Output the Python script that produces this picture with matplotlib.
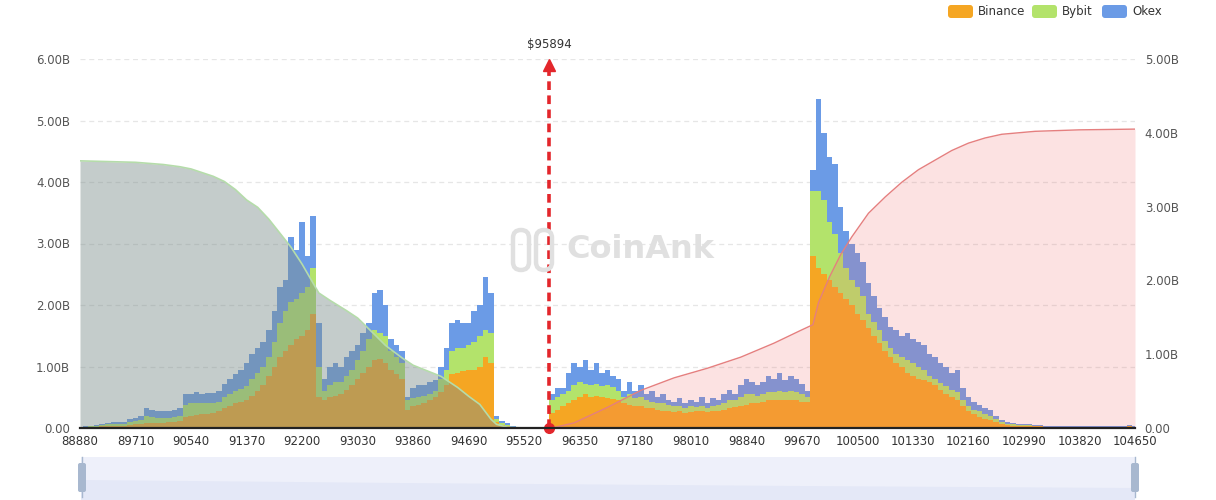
import numpy as np
import matplotlib
matplotlib.use('Agg')
import matplotlib.pyplot as plt
from matplotlib.patches import FancyBboxPatch, Rectangle, Polygon

plt.rcParams['font.family'] = ['DejaVu Sans']

# ---------------- data ----------------
start_price = 88880
price_step = 83
n_levels = 191
prices = start_price + price_step * np.arange(n_levels)
tick_prices = [88880, 89710, 90540, 91370, 92200, 93030, 93860, 94690, 95520, 96350,
               97180, 98010, 98840, 99670, 100500, 101330, 102160, 102990, 103820, 104650]
current_price = 95894

binance = [0.01, 0.01, 0.015, 0.02, 0.025, 0.03, 0.035, 0.04, 0.04, 0.05,
           0.06, 0.07, 0.08, 0.08, 0.08, 0.08, 0.09, 0.10, 0.12, 0.18,
           0.20, 0.21, 0.22, 0.23, 0.24, 0.27, 0.32, 0.36, 0.40, 0.43,
           0.46, 0.52, 0.60, 0.70, 0.85, 1.00, 1.15, 1.25, 1.35, 1.45,
           1.50, 1.60, 1.85, 0.50, 0.45, 0.50, 0.52, 0.55, 0.62, 0.70,
           0.80, 0.90, 1.00, 1.10, 1.12, 1.05, 0.95, 0.88, 0.80, 0.30,
           0.35, 0.38, 0.40, 0.45, 0.50, 0.58, 0.70, 0.88, 0.90, 0.92,
           0.95, 0.95, 1.00, 1.15, 1.05, 0.10, 0.05, 0.03, 0.01, 0,
           0, 0, 0, 0, 0, 0.25, 0.30, 0.35, 0.40, 0.45,
           0.50, 0.55, 0.50, 0.52, 0.50, 0.48, 0.47, 0.45, 0.40, 0.38,
           0.36, 0.35, 0.33, 0.32, 0.30, 0.28, 0.27, 0.26, 0.27, 0.25,
           0.26, 0.27, 0.27, 0.26, 0.28, 0.28, 0.30, 0.32, 0.34, 0.36,
           0.38, 0.40, 0.40, 0.42, 0.45, 0.45, 0.46, 0.45, 0.46, 0.45,
           0.43, 0.42, 2.80, 2.60, 2.50, 2.40, 2.30, 2.20, 2.10, 2.00,
           1.85, 1.75, 1.62, 1.50, 1.38, 1.25, 1.15, 1.05, 1.00, 0.90,
           0.85, 0.80, 0.78, 0.74, 0.70, 0.62, 0.56, 0.50, 0.45, 0.35,
           0.27, 0.22, 0.18, 0.15, 0.13, 0.10, 0.07, 0.05, 0.04, 0.03,
           0.03, 0.03, 0.025, 0.025, 0.015, 0.015, 0.015, 0.015, 0.015, 0.015,
           0.015, 0.015, 0.015, 0.015, 0.015, 0.015, 0.015, 0.015, 0.015, 0.03,
           0.015]

bybit = [0.005, 0.01, 0.015, 0.015, 0.025, 0.03, 0.03, 0.03, 0.03, 0.05,
         0.05, 0.06, 0.12, 0.10, 0.09, 0.08, 0.08, 0.08, 0.08, 0.20,
         0.20, 0.19, 0.18, 0.18, 0.16, 0.16, 0.18, 0.19, 0.20, 0.21,
         0.22, 0.28, 0.30, 0.30, 0.30, 0.40, 0.55, 0.65, 0.70, 0.65,
         0.70, 0.70, 0.75, 0.50, 0.15, 0.20, 0.23, 0.20, 0.23, 0.25,
         0.30, 0.35, 0.45, 0.50, 0.43, 0.45, 0.30, 0.27, 0.25, 0.15,
         0.13, 0.12, 0.12, 0.10, 0.10, 0.22, 0.25, 0.37, 0.40, 0.38,
         0.40, 0.45, 0.50, 0.45, 0.50, 0.05, 0.03, 0.02, 0.01, 0,
         0, 0, 0, 0, 0, 0.20, 0.20, 0.20, 0.20, 0.25,
         0.25, 0.17, 0.20, 0.20, 0.18, 0.22, 0.19, 0.15, 0.10, 0.17,
         0.12, 0.15, 0.12, 0.10, 0.10, 0.12, 0.10, 0.09, 0.09, 0.08,
         0.09, 0.07, 0.09, 0.07, 0.08, 0.09, 0.10, 0.13, 0.11, 0.14,
         0.17, 0.15, 0.12, 0.13, 0.13, 0.13, 0.14, 0.13, 0.14, 0.13,
         0.12, 0.08, 1.05, 1.25, 1.20, 0.95, 0.85, 0.65, 0.50, 0.40,
         0.45, 0.40, 0.23, 0.22, 0.22, 0.17, 0.15, 0.15, 0.15, 0.20,
         0.20, 0.20, 0.17, 0.11, 0.10, 0.11, 0.12, 0.12, 0.13, 0.10,
         0.09, 0.08, 0.09, 0.08, 0.07, 0.05, 0.03, 0.02, 0.02, 0.02,
         0.02, 0.015, 0.01, 0.01, 0.008, 0.008, 0.008, 0.008, 0.008, 0.008,
         0.008, 0.008, 0.008, 0.008, 0.008, 0.008, 0.008, 0.008, 0.008, 0.01,
         0.008]

okex = [0.005, 0.01, 0.01, 0.015, 0.02, 0.02, 0.025, 0.03, 0.03, 0.05,
        0.06, 0.07, 0.13, 0.12, 0.11, 0.11, 0.11, 0.12, 0.12, 0.17,
        0.16, 0.18, 0.15, 0.16, 0.17, 0.17, 0.22, 0.25, 0.28, 0.31,
        0.37, 0.40, 0.40, 0.40, 0.45, 0.50, 0.60, 0.50, 1.05, 0.80,
        1.15, 0.50, 0.85, 0.70, 0.20, 0.30, 0.30, 0.25, 0.30, 0.30,
        0.25, 0.30, 0.25, 0.60, 0.70, 0.50, 0.20, 0.20, 0.20, 0.05,
        0.17, 0.20, 0.18, 0.20, 0.18, 0.20, 0.35, 0.45, 0.45, 0.40,
        0.35, 0.50, 0.50, 0.85, 0.65, 0.05, 0.04, 0.03, 0.01, 0,
        0, 0, 0, 0, 0, 0.10, 0.15, 0.10, 0.30, 0.35,
        0.25, 0.38, 0.25, 0.33, 0.22, 0.25, 0.19, 0.20, 0.10, 0.20,
        0.12, 0.20, 0.10, 0.18, 0.10, 0.15, 0.08, 0.07, 0.12, 0.07,
        0.10, 0.08, 0.14, 0.07, 0.12, 0.08, 0.15, 0.17, 0.10, 0.20,
        0.25, 0.20, 0.18, 0.20, 0.27, 0.22, 0.30, 0.20, 0.25, 0.22,
        0.17, 0.10, 0.35, 1.50, 1.10, 1.05, 1.15, 0.75, 0.60, 0.60,
        0.55, 0.55, 0.50, 0.43, 0.35, 0.38, 0.35, 0.40, 0.35, 0.45,
        0.40, 0.40, 0.40, 0.35, 0.35, 0.32, 0.32, 0.28, 0.37, 0.20,
        0.14, 0.12, 0.10, 0.10, 0.10, 0.05, 0.03, 0.03, 0.02, 0.02,
        0.02, 0.015, 0.015, 0.015, 0.007, 0.007, 0.007, 0.007, 0.007, 0.007,
        0.007, 0.007, 0.007, 0.007, 0.007, 0.007, 0.007, 0.007, 0.007, 0.01,
        0.007]

# cumulative liquidation (right axis, billions), level index -> value
long_cum_idx = [0, 5, 10, 15, 18, 20, 22, 24, 26, 28, 30, 32, 34, 36, 38, 40, 42, 43, 45,
                48, 50, 53, 55, 58, 60, 63, 65, 68, 70, 72, 74, 75, 77, 80, 84]
long_cum_val = [3.62, 3.61, 3.60, 3.57, 3.54, 3.51, 3.46, 3.41, 3.34, 3.23, 3.09, 2.99,
                2.83, 2.64, 2.45, 2.22, 1.96, 1.83, 1.73, 1.59, 1.49, 1.27, 1.12, 0.95,
                0.85, 0.76, 0.70, 0.55, 0.43, 0.32, 0.12, 0.05, 0.01, 0.0, 0.0]
short_cum_idx = [85, 89, 95, 101, 107, 113, 119, 125, 130, 132, 133, 135, 137, 139, 142,
                 145, 148, 151, 154, 157, 160, 163, 166, 172, 180, 190]
short_cum_val = [0.0, 0.07, 0.28, 0.51, 0.68, 0.81, 0.96, 1.15, 1.33, 1.40, 1.70, 2.05,
                 2.35, 2.59, 2.91, 3.13, 3.33, 3.50, 3.63, 3.76, 3.86, 3.93, 3.98, 4.02,
                 4.04, 4.05]

# ---------------- figure ----------------
W, H = 1216, 500
fig = plt.figure(figsize=(W / 100, H / 100), dpi=100)
ax = fig.add_axes([80 / W, (H - 428) / H, 1055 / W, (428 - 59) / H])
ax2 = ax.twinx()

c_bin, c_byb, c_okx = '#f5a623', '#b3e36b', '#6b9be6'

b = np.array(binance)
y1 = np.array(bybit)
o = np.array(okex)
ax.fill_between(prices, 0, b, step='mid', color=c_bin, lw=0)
ax.fill_between(prices, b, b + y1, step='mid', color=c_byb, lw=0)
ax.fill_between(prices, b + y1, b + y1 + o, step='mid', color=c_okx, lw=0)

ax.set_xlim(prices[0], prices[-1])
ax.set_ylim(0, 6)
ax2.set_ylim(0, 5)

# cumulative areas
lx = prices[long_cum_idx]
sx = prices[short_cum_idx]
ax2.fill_between(lx, 0, long_cum_val, color='#7d8f8c', alpha=0.45, lw=0)
ax2.plot(lx, long_cum_val, color='#b5dcaa', lw=1.2)
ax2.fill_between(sx, 0, short_cum_val, color='#f07070', alpha=0.2, lw=0)
ax2.plot(sx, short_cum_val, color='#e57f7f', lw=1.0)

# grid and axes styling
ax.set_yticks([0, 1, 2, 3, 4, 5, 6])
ax.set_yticklabels(['0.00', '1.00B', '2.00B', '3.00B', '4.00B', '5.00B', '6.00B'])
ax2.set_yticks([0, 1, 2, 3, 4, 5])
ax2.set_yticklabels(['0.00', '1.00B', '2.00B', '3.00B', '4.00B', '5.00B'])
ax.set_xticks(tick_prices)
ax.set_xticklabels([str(p) for p in tick_prices])
for yv in [1, 2, 3, 4, 5, 6]:
    ax.axhline(yv, color='#e6e6e6', lw=0.9, ls=(0, (4, 3)), zorder=0)
for a in (ax, ax2):
    for s in a.spines.values():
        s.set_visible(False)
    a.tick_params(length=0)
ax2.spines['bottom'].set_visible(True)
ax2.spines['bottom'].set_color('#222222')
ax2.spines['bottom'].set_linewidth(1.6)
ax.tick_params(axis='y', labelsize=8.5, labelcolor='#555555', pad=7)
ax2.tick_params(axis='y', labelsize=8.5, labelcolor='#555555', pad=7)
ax.tick_params(axis='x', labelsize=8.5, labelcolor='#333333', pad=5)

# current price marker
red = '#e3262b'
ax.plot([current_price, current_price], [0, 5.85], color=red, lw=2.6,
        dashes=(2.4, 1.5), zorder=6, clip_on=False)
ax.plot([current_price], [5.9], marker='^', color=red, markersize=9, zorder=7, clip_on=False)
ax.plot([current_price], [0], marker='o', color=red, markersize=7, zorder=7, clip_on=False)
ax.text(current_price, 6.24, '$' + str(current_price), ha='center', va='center',
        fontsize=8.5, color='#333333', clip_on=False)

# ---------------- overlay (legend, watermark, slider) ----------------
ov = fig.add_axes([0, 0, 1, 1], facecolor='none')
ov.set_xlim(0, W)
ov.set_ylim(H, 0)
ov.axis('off')

# watermark
ov.text(640, 250, 'CoinAnk', ha='center', va='center', fontsize=23,
        color='#e0e0e0', fontweight='semibold')
for x0 in (513, 536):
    ov.add_patch(FancyBboxPatch((x0, 230), 16, 40, boxstyle='round,pad=0,rounding_size=8',
                                fill=False, ec='#e0e0e0', lw=3.2))

# legend
legend_items = [('Binance', c_bin, 948), ('Bybit', c_byb, 1032), ('Okex', c_okx, 1102)]
for name, col, x0 in legend_items:
    ov.add_patch(FancyBboxPatch((x0, 5), 25, 13, boxstyle='round,pad=0,rounding_size=3',
                                fc=col, ec='none'))
    ov.text(x0 + 30, 11.5, name, ha='left', va='center', fontsize=8.5, color='#333333')

# data zoom slider
ov.add_patch(Rectangle((81, 457), 1054, 43, fc='#eef0fa', ec='none'))
ov.add_patch(Polygon([(81, 480), (400, 483), (800, 486), (1135, 488), (1135, 500), (81, 500)],
                     closed=True, fc='#e4e8f7', ec='none'))
for hx in (82, 1135):
    ov.plot([hx, hx], [457, 497], color='#a8b8cf', lw=1)
    ov.add_patch(FancyBboxPatch((hx - 4, 463), 8, 29, boxstyle='round,pad=0,rounding_size=2',
                                fc='#a8b8cf', ec='none'))

fig.savefig('out.png', dpi=100)
